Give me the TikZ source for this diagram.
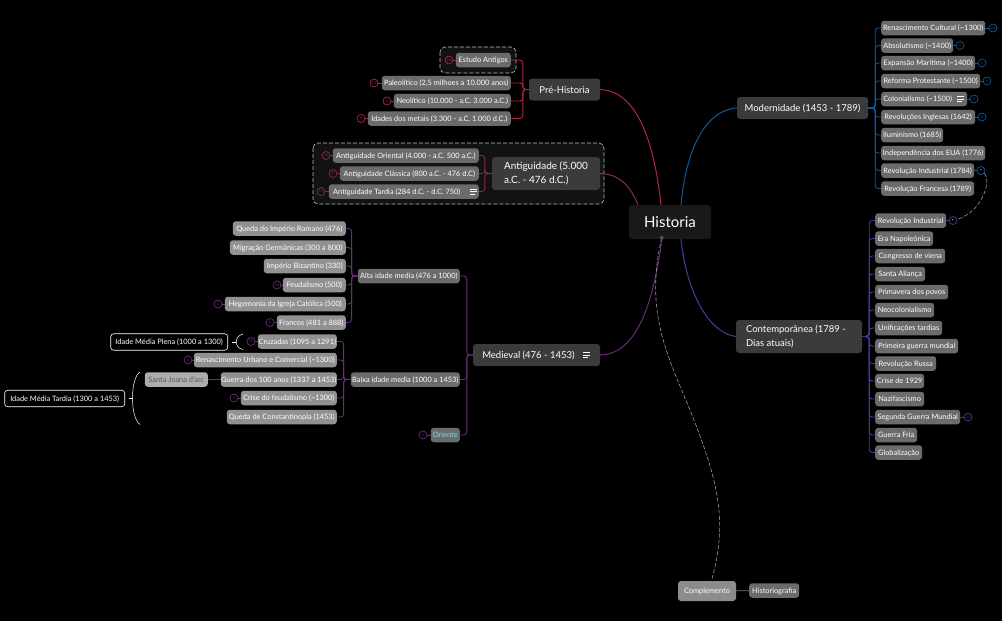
\documentclass[tikz,border=0pt]{standalone}
\usepackage{fontspec}
\setmainfont{Lato}
\definecolor{redlink}{HTML}{B0273F}
\definecolor{wine}{HTML}{8A2A58}
\definecolor{purplelink}{HTML}{6B2A7A}
\definecolor{bluelink}{HTML}{0B5A9C}
\definecolor{indigolink}{HTML}{4B3A9C}
\tikzset{
  box/.style={fill=#1,text=white,rounded corners=3pt,inner sep=0pt,minimum height=14.5pt,text height=5.4pt,text depth=0pt,font=\fontsize{7.4}{9.5}\selectfont},
  bigtopic/.style={fill=black!77!white,text=white,rounded corners=3pt,inner sep=0pt,minimum height=33pt,align=left,font=\fontsize{9.5}{13.5}\selectfont},
  topic/.style={fill=black!77!white,text=white,rounded corners=3pt,inner sep=0pt,minimum height=22pt,text height=7pt,text depth=0pt,font=\fontsize{9.5}{13.5}\selectfont},
  tip/.style={box=black!58!white},
  leaf/.style={box=black!43!white},
  badge/.style={draw=#1,circle,inner sep=0pt,minimum size=8pt,line width=.7pt,text=#1,font=\fontsize{3.6}{4}\selectfont},
  link/.style={draw=#1,line width=.9pt,rounded corners=3pt},
  curve/.style={draw=#1,line width=1pt},
  summary/.style={draw=white,rounded corners=3pt,fill=black,text=white,inner sep=0pt,minimum height=16.5pt,text height=5.4pt,text depth=0pt,line width=.6pt,font=\fontsize{7.4}{9.5}\selectfont},
  frame/.style={draw=black!25!white,dash pattern=on 4pt off 2pt,rounded corners=5pt,fill=black!93!white,line width=.6pt},
  extra/.style={draw=black!40!white,dash pattern=on 4pt off 2pt,line width=.6pt},
  noteicon/.style={draw=white,line width=.7pt}
}
\begin{document}
\begin{tikzpicture}[x=1pt,y=-1pt]
  \fill[black] (0,0) rectangle (1002,621);
  \useasboundingbox (0,0) rectangle (1002,621);
  \draw[frame] (440,47) rectangle (516,73);
  \draw[frame] (313,143) rectangle (604,204);

  \node[topic,fill=black!90!white,minimum width=82pt,minimum height=34pt,text height=11pt,font=\fontsize{15}{18}\selectfont] (raiz) at (670,222) {Historia};
  \node[topic,minimum width=71pt] (prehist) at (564.5,89.5) {Pré-Historia};
  \node[bigtopic,minimum width=108pt,font=\fontsize{10}{13.5}\selectfont] (antiga) at (546,173.5) {Antiguidade (5.000\\a.C. - 476 d.C.)\hspace*{7pt}};
  \node[topic,minimum width=127pt] (medieval) at (536.5,355) {Medieval (476 - 1453)\hspace*{16pt}};
  \node[topic,minimum width=131pt] (moderna) at (802.5,108) {Modernidade (1453 - 1789)};
  \node[bigtopic,minimum width=126pt] (contemp) at (799,336.5) {Contemporânea (1789 -\hspace*{6pt}\\Dias atuais)};

  % pre-historia
  \node[tip,anchor=east,minimum width=55pt] (estudo) at (511,60) {Estudo Antigos};
  \node[tip,anchor=east,minimum width=129pt] (paleo) at (511,83) {Paleolítico (2,5 milhoes a 10.000 anos)};
  \node[tip,anchor=east,minimum width=117pt] (neo) at (511,101) {Neolítico (10.000 - a.C. 3.000 a.C.)};
  \node[tip,anchor=east,minimum width=143pt] (metais) at (511,118.5) {Idades dos metais (3.300 - a.C. 1.000 d.C.)};
  \node[badge=redlink] (bestudo) at (449,60) {13};
  \node[badge=redlink] (bpaleo) at (374,83) {11};
  \node[badge=redlink] (bneo) at (387,101) {3};
  \node[badge=redlink] (bmetais) at (361,118.5) {8};

  % antiguidade
  \node[tip,anchor=east,minimum width=146pt] (oriental) at (479,155.5) {Antiguidade Oriental (4.000 - a.C. 500 a.C.)};
  \node[tip,anchor=east,minimum width=139pt] (classica) at (479,173.5) {Antiguidade Clássica (800 a.C. - 476 d.C)};
  \node[tip,anchor=east,minimum width=150pt] (tardia) at (479,191.5) {Antiguidade Tardia (284 d.C. -  d.C. 750)\hspace*{14pt}};
  \node[badge=wine] (boriental) at (326,155.5) {22};
  \node[badge=wine] (bclassica) at (333,173.5) {27};
  \node[badge=wine] (btardia) at (321,191.5) {15};

  % medieval
  \node[tip,anchor=east,minimum width=102pt] (alta) at (460,276) {Alta idade media (476 a 1000)};
  \node[tip,anchor=east,minimum width=109pt] (baixa) at (460,379.5) {Baixa idade media (1000 a 1453)};
  \node[tip,anchor=east,minimum width=29pt,text=cyan!50!white] (oriente) at (460,435) {Oriente};
  \node[badge=purplelink] (boriente) at (423,435) {4};
  \node[leaf,anchor=east,minimum width=113pt] (romano) at (346,228.5) {Queda do Império Romano (476)};
  \node[leaf,anchor=east,minimum width=116pt] (migracao) at (346,247.5) {Migração Germânicas (300 a 800)};
  \node[leaf,anchor=east,minimum width=82pt] (bizantino) at (346,266) {Império Bizantino (330)};
  \node[leaf,anchor=east,minimum width=63pt] (feudal) at (346,285) {Feudalismo (500)};
  \node[leaf,anchor=east,minimum width=121pt] (igreja) at (346,304) {Hegemonia da Igreja Católica (500)};
  \node[leaf,anchor=east,minimum width=69pt] (francos) at (346,322.5) {Francos (481 a 888)};
  \node[badge=purplelink] (bfeudal) at (277,285) {18};
  \node[badge=purplelink] (bigreja) at (218,304) {2};
  \node[badge=purplelink] (bfrancos) at (270,322.5) {6};
  \node[leaf,anchor=east,minimum width=79pt] (cruzadas) at (337,341.5) {Cruzadas (1095 a 1291)};
  \node[leaf,anchor=east,minimum width=143pt] (urbano) at (337,360) {Renascimento Urbano e Comercial (\textasciitilde1300)};
  \node[leaf,anchor=east,minimum width=116pt] (guerra) at (337,379.5) {Guerra dos 100 anos (1337 a 1453)};
  \node[leaf,anchor=east,minimum width=96pt] (crise) at (337,398) {Crise do feudalismo (\textasciitilde1300)};
  \node[leaf,anchor=east,minimum width=110pt] (constant) at (337,417) {Queda de Constantinopla (1453)};
  \node[badge=purplelink] (bcruzadas) at (251,341.5) {19};
  \node[badge=purplelink] (burbano) at (188,360) {3};
  \node[badge=purplelink] (bcrise) at (234,398) {5};
  \node[leaf,anchor=east,minimum width=63pt,fill=black!32!white,text=black!65!white] (joana) at (208,379.5) {Santa Joana d'arc};
  \node[summary,anchor=east,minimum width=117pt] (plena) at (228,342) {Idade Média Plena (1000 a 1300)};
  \node[summary,anchor=east,minimum width=120pt] (tarda) at (125,398.5) {Idade Média Tardia (1300 a 1453)};

  % modernidade
  \node[tip,anchor=west,minimum width=104pt] (renasc) at (881,28) {Renascimento Cultural (\textasciitilde1300)};
  \node[tip,anchor=west,minimum width=72pt] (absol) at (881,45.5) {Absolutismo (\textasciitilde1400)};
  \node[tip,anchor=west,minimum width=94pt] (expansao) at (881,63) {Expansão Marítima (\textasciitilde1400)};
  \node[tip,anchor=west,minimum width=99pt] (reforma) at (881,81) {Reforma Protestante (\textasciitilde1500)};
  \node[tip,anchor=west,minimum width=86pt] (colonia) at (881,99) {Colonialismo (\textasciitilde1500)\hspace*{13pt}};
  \node[tip,anchor=west,minimum width=94pt] (inglesas) at (881,117) {Revoluções Inglesas (1642)};
  \node[tip,anchor=west,minimum width=62pt] (ilumin) at (881,135) {Iluminismo (1685)};
  \node[tip,anchor=west,minimum width=104pt] (eua) at (881,153) {Independência dos EUA (1776)};
  \node[tip,anchor=west,minimum width=93pt] (indust) at (881,170.5) {Revolução Industrial (1784)};
  \node[tip,anchor=west,minimum width=93pt] (francesa) at (881,188.5) {Revolução Francesa (1789)};
  \node[badge=bluelink] (brenasc) at (993,28) {21};
  \node[badge=bluelink] (babsol) at (960,45.5) {6};
  \node[badge=bluelink] (bexpansao) at (982,63) {1};
  \node[badge=bluelink] (breforma) at (987,81) {9};
  \node[badge=bluelink] (bcolonia) at (974,99) {2};
  \node[badge=bluelink] (binglesas) at (982,117) {3};
  \node[badge=bluelink,text=white] (bindust) at (981,170.5) {+};

  % contemporanea
  \node[tip,anchor=west,minimum width=71pt] (revind) at (875,220.5) {Revolução Industrial};
  \node[tip,anchor=west,minimum width=58pt] (napoleao) at (875,238.5) {Era Napoleônica};
  \node[tip,anchor=west,minimum width=70pt] (viena) at (875,256) {Congresso de viena};
  \node[tip,anchor=west,minimum width=50pt] (alianca) at (875,274) {Santa Aliança};
  \node[tip,anchor=west,minimum width=73pt] (primavera) at (875,292) {Primavera dos povos};
  \node[tip,anchor=west,minimum width=59pt] (neocol) at (875,310) {Neocolonialismo};
  \node[tip,anchor=west,minimum width=67pt] (unific) at (875,328) {Unificações tardias};
  \node[tip,anchor=west,minimum width=83pt] (primeira) at (875,346) {Primeira guerra mundial};
  \node[tip,anchor=west,minimum width=61pt] (russa) at (875,363.5) {Revolução Russa};
  \node[tip,anchor=west,minimum width=49pt] (crash) at (875,381) {Crise de 1929};
  \node[tip,anchor=west,minimum width=49pt] (nazi) at (875,399) {Nazifascismo};
  \node[tip,anchor=west,minimum width=85pt] (segunda) at (875,417) {Segunda Guerra Mundial};
  \node[tip,anchor=west,minimum width=42pt] (fria) at (875,435) {Guerra Fria};
  \node[tip,anchor=west,minimum width=47pt] (global) at (875,452.5) {Globalização};
  \node[badge=indigolink,text=white] (brevind) at (953,220.5) {+};
  \node[badge=indigolink] (bsegunda) at (968,417) {22};

  % complemento
  \node[box=black!45!white,minimum width=58pt,minimum height=20pt] (compl) at (707,591) {Complemento};
  \node[tip,anchor=west,minimum width=50pt] (historio) at (749,590.5) {Historiografia};

  % ramos principais
  \draw[curve=redlink] (prehist.east) .. controls (640,91) and (655,150) .. ([xshift=-9pt]raiz.north);
  \draw[curve=wine] (antiga.east) .. controls (622,174) and (632,190) .. ([xshift=-32pt]raiz.north);
  \draw[curve=purplelink] (medieval.east) .. controls (640,354) and (654,295) .. ([xshift=-8pt]raiz.south);
  \draw[curve=bluelink] (moderna.west) .. controls (705,110) and (686,150) .. ([xshift=11pt]raiz.north);
  \draw[curve=indigolink] (contemp.west) .. controls (708,333) and (686,290) .. ([xshift=11pt]raiz.south);

  \foreach \n in {estudo,paleo,neo,metais}
    \draw[link=redlink] (prehist.west) -- ++(-6,0) |- (\n.east);
  \foreach \n in {oriental,classica,tardia}
    \draw[link=wine] (antiga.west) -- ++(-7,0) |- (\n.east);
  \foreach \n in {alta,baixa,oriente}
    \draw[link=purplelink] (medieval.west) -- ++(-6,0) |- (\n.east);
  \foreach \n in {romano,migracao,bizantino,feudal,igreja,francos}
    \draw[link=purplelink] (alta.west) -- ++(-6,0) |- (\n.east);
  \foreach \n in {cruzadas,urbano,guerra,crise,constant}
    \draw[link=purplelink] (baixa.west) -- ++(-7,0) |- (\n.east);
  \foreach \n in {renasc,absol,expansao,reforma,colonia,inglesas,ilumin,eua,indust,francesa}
    \draw[link=bluelink] (moderna.east) -- ++(7,0) |- (\n.west);
  \foreach \n in {revind,napoleao,viena,alianca,primavera,neocol,unific,primeira,russa,crash,nazi,segunda,fria,global}
    \draw[link=indigolink] (contemp.east) -- ++(7,0) |- (\n.west);

  \foreach \n in {estudo,paleo,neo,metais}
    \draw[link=redlink] (\n) -- (b\n);
  \foreach \n in {oriental,classica,tardia}
    \draw[link=wine] (\n) -- (b\n);
  \foreach \n in {oriente,feudal,igreja,francos,cruzadas,urbano,crise}
    \draw[link=purplelink] (\n) -- (b\n);
  \foreach \n in {renasc,absol,expansao,reforma,colonia,inglesas,indust}
    \draw[link=bluelink] (\n) -- (b\n);
  \foreach \n in {revind,segunda}
    \draw[link=indigolink] (\n) -- (b\n);
  \draw[link=purplelink] (guerra) -- (joana);
  \draw[draw=black!55!white,line width=.9pt] (compl) -- (historio);

  % resumos
  \coordinate (plenatop) at (243,334);
  \coordinate (plenabot) at (243,349.5);
  \coordinate (tardatop) at (140,372);
  \coordinate (tardabot) at (140,424.5);
  \draw[draw=white,line width=.5pt] (plena.east) ++(4,0) -- ++(4,0);
  \draw[draw=white,line width=.5pt] (plenatop) .. controls (234,336) and (234,348) .. (plenabot);
  \draw[draw=white,line width=.5pt] (tarda.east) ++(4,0) -- ++(4,0);
  \draw[draw=white,line width=.5pt] (tardatop) .. controls (130,378) and (130,418) .. (tardabot);

  % ligacoes tracejadas
  \draw[extra] (bindust) .. controls (992,180) and (982,212) .. (brevind);
  \draw[extra,->] (compl.north) ++(5,-2) .. controls (728,520) and (718,480) .. (690,410)
    .. controls (665,350) and (645,310) .. ([xshift=-8pt,yshift=3pt]raiz.south);

  % notas
  \foreach \nx/\ny in {473/191.5,960/99,586/355} {
    \draw[noteicon] (\nx-3,\ny-2.5) -- ++(7,0);
    \draw[noteicon] (\nx-3,\ny) -- ++(7,0);
    \draw[noteicon] (\nx-3,\ny+2.5) -- ++(4.5,0);
  }
\end{tikzpicture}
\end{document}
